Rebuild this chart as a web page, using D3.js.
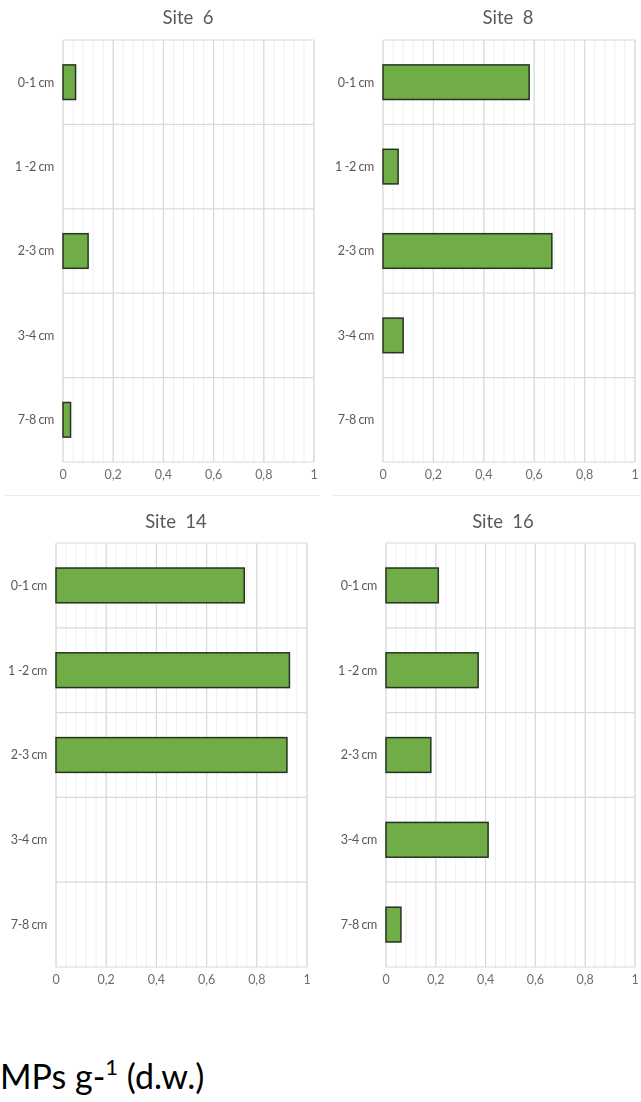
<!DOCTYPE html>
<html>
<head>
<meta charset="utf-8">
<script src="https://cdn.jsdelivr.net/npm/d3@7"></script>
<style>
  html, body { margin: 0; padding: 0; background: #ffffff; }
  svg { display: block; }
  text { font-family: Lato, "Open Sans", sans-serif; white-space: pre; }
</style>
</head>
<body>
<svg id="chart" width="641" height="1102"></svg>
<script>
// Depth layers sampled at each site
const categories = ["0-1 cm", "1 -2 cm", "2-3 cm", "3-4 cm", "7-8 cm"];
const siteNames = ["Site  6", "Site  8", "Site  14", "Site  16"];

// MPs per gram dry weight for each depth layer (null = no particles found)
const site6 = [0.05, null, 0.10, null, 0.03];
const site8 = [0.58, 0.06, 0.67, 0.08, null];
const site14 = [0.75, 0.93, 0.92, null, null];
const site16 = [0.21, 0.37, 0.18, 0.41, 0.06];

const xTicks = [0, 0.2, 0.4, 0.6, 0.8, 1];
const xTickLabels = ["0", "0,2", "0,4", "0,6", "0,8", "1"];

const seriesBySite = [site6, site8, site14, site16];

// Panel frames (plot areas) in a 2x2 grid
const panels = [
  { left: 63,  right: 314, top: 40,  bottom: 462, titleX: 188, titleY: 24 },
  { left: 383, right: 635, top: 40,  bottom: 462, titleX: 508, titleY: 24 },
  { left: 56,  right: 307, top: 543, bottom: 967, titleX: 176, titleY: 528 },
  { left: 386, right: 635, top: 543, bottom: 967, titleX: 503, titleY: 528 }
];

const svg = d3.select("#chart");

// soft rendering of the chart panels
const defs = svg.append("defs");
defs.append("filter").attr("id", "soft")
  .append("feGaussianBlur").attr("stdDeviation", 0.45);

const charts = svg.append("g").attr("filter", "url(#soft)");

// thin frames separating the chart objects
charts.append("line").attr("x1", 5).attr("x2", 320).attr("y1", 495.5).attr("y2", 495.5)
  .attr("stroke", "#ededed").attr("stroke-width", 1);
charts.append("line").attr("x1", 333).attr("x2", 641).attr("y1", 495.5).attr("y2", 495.5)
  .attr("stroke", "#ededed").attr("stroke-width", 1);

const minorTicks = d3.range(0, 1.0001, 0.04);

panels.forEach((p, i) => {
  const values = seriesBySite[i];
  const g = charts.append("g");

  const x = d3.scaleLinear().domain([0, 1]).range([p.left, p.right]);
  const y = d3.scaleBand().domain(categories).range([p.top, p.bottom]).paddingInner(0).paddingOuter(0);
  const barH = y.bandwidth() * 0.41;

  // minor vertical gridlines
  g.append("g").selectAll("line").data(minorTicks).join("line")
    .attr("x1", d => x(d)).attr("x2", d => x(d))
    .attr("y1", p.top).attr("y2", p.bottom)
    .attr("stroke", "#efefef").attr("stroke-width", 1);

  // major vertical gridlines
  g.append("g").selectAll("line").data(xTicks).join("line")
    .attr("x1", d => x(d)).attr("x2", d => x(d))
    .attr("y1", p.top).attr("y2", p.bottom)
    .attr("stroke", "#d9d9d9").attr("stroke-width", 1.2);

  // horizontal lines between depth layers, plus the outer frame
  const bounds = categories.map(c => y(c)).concat([p.bottom]);
  g.append("g").selectAll("line").data(bounds).join("line")
    .attr("x1", p.left).attr("x2", p.right)
    .attr("y1", d => d).attr("y2", d => d)
    .attr("stroke", "#d9d9d9").attr("stroke-width", 1.2);

  // bars
  const rows = categories.map((c, k) => ({ c, v: values[k] })).filter(d => d.v != null);
  g.append("g").selectAll("rect").data(rows).join("rect")
    .attr("x", x(0))
    .attr("y", d => y(d.c) + (y.bandwidth() - barH) / 2)
    .attr("width", d => x(d.v) - x(0))
    .attr("height", barH)
    .attr("fill", "#70ad47")
    .attr("stroke", "#263320")
    .attr("stroke-width", 1.5);

  // depth labels
  g.append("g").selectAll("text").data(categories).join("text")
    .attr("x", p.left - 9)
    .attr("y", d => y(d) + y.bandwidth() / 2)
    .attr("dy", "0.35em")
    .attr("text-anchor", "end")
    .attr("font-size", 12.5)
    .attr("letter-spacing", -0.4)
    .attr("fill", "#595959")
    .text(d => d);

  // x tick labels
  g.append("g").selectAll("text").data(xTicks).join("text")
    .attr("x", d => x(d))
    .attr("y", p.bottom + 13)
    .attr("dy", "0.35em")
    .attr("text-anchor", "middle")
    .attr("font-size", 12.5)
    .attr("fill", "#6e6e6e")
    .text((d, k) => xTickLabels[k]);

  // site title
  g.append("text")
    .attr("x", p.titleX)
    .attr("y", p.titleY)
    .attr("text-anchor", "middle")
    .attr("font-size", 18.5)
    .attr("fill", "#595959")
    .text(siteNames[i]);
});

// shared value unit
const unit = svg.append("text")
  .attr("x", 0)
  .attr("y", 1089)
  .attr("font-size", 34)
  .attr("fill", "#000000");
unit.append("tspan").text("MPs g-");
unit.append("tspan").attr("font-size", 22).attr("dy", -14).text("1");
unit.append("tspan").attr("dy", 14).text(" (d.w.)");
</script>
</body>
</html>
